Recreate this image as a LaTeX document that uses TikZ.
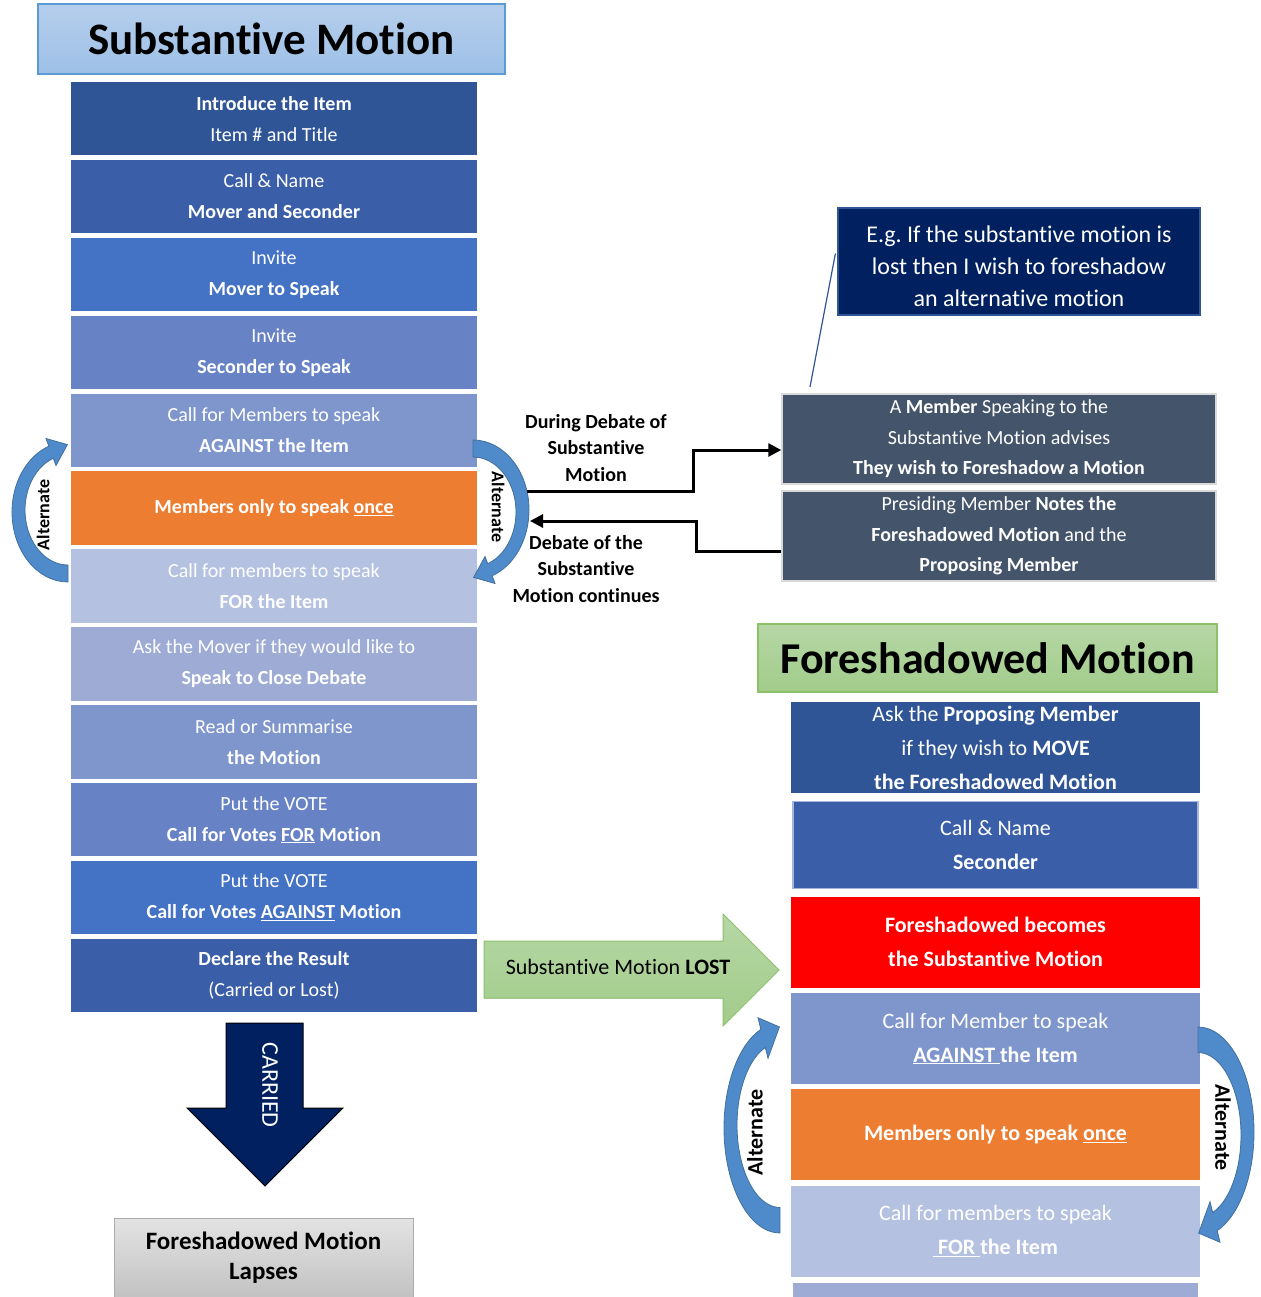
\documentclass[tikz,border=0pt]{standalone}
\usepackage{fontspec}
\setmainfont{Carlito}[Ligatures=NoCommon]
\usetikzlibrary{positioning,arrows.meta}
\frenchspacing

\definecolor{blueA}{HTML}{2F5597}
\definecolor{blueB}{HTML}{3A5FA8}
\definecolor{blueC}{HTML}{4472C4}
\definecolor{blueD}{HTML}{6783C5}
\definecolor{blueE}{HTML}{7F96CD}
\definecolor{blueF}{HTML}{B4C1E1}
\definecolor{blueG}{HTML}{9DABD5}
\definecolor{orangeA}{HTML}{ED7D31}
\definecolor{slate}{HTML}{44546A}
\definecolor{navy}{HTML}{002060}
\definecolor{arcblue}{HTML}{4F8ACB}
\definecolor{arcedge}{HTML}{41719C}
\definecolor{skyA}{HTML}{B6CEEC}
\definecolor{skyB}{HTML}{9DC0E7}
\definecolor{skyC}{HTML}{5B9BD5}
\definecolor{leafA}{HTML}{B6D7A6}
\definecolor{leafB}{HTML}{A2CC8A}
\definecolor{leafC}{HTML}{8CC168}

\begin{document}
\begin{tikzpicture}[x=1pt, y=1pt, node distance=4.1pt,
  every node/.style={align=center, text=white, inner sep=0pt},
  stepbox/.style={rectangle, minimum width=406pt, minimum height=73.4pt, font=\fontsize{20}{31}\selectfont},
  fsbox/.style={rectangle, minimum width=409pt, minimum height=91pt, font=\fontsize{22}{34}\selectfont},
  notebox/.style={rectangle, fill=slate, draw=gray!30, line width=1.5pt, minimum width=434pt, minimum height=90pt, font=\fontsize{20}{30.5}\selectfont},
  headbox/.style={rectangle, text=black, line width=1.2pt, font=\fontsize{45}{50}\selectfont\bfseries},
  sidenote/.style={text=black, font=\fontsize{20}{26.5}\selectfont\bfseries},
  flow/.style={line width=3pt, -{Triangle[length=13pt,width=13pt]}},
  alttext/.style={text=black, font=\bfseries},
  altcurve/.pic={
    \filldraw[fill=arcblue, draw=arcedge, line width=0.8pt]
      (0,-70) arc[start angle=270, end angle=110, x radius=56, y radius=70]
      -- (-22,73.5) -- (-0.6,67.4) -- (-12,46.5) -- (-14.7,53.7)
      arc[start angle=110, end angle=270, x radius=43, y radius=55] -- cycle;
    \node[alttext, #1] at (-25,-3) {Alternate};
  }]
  \useasboundingbox (0,0) rectangle (1260,-1297);

  \node[headbox, top color=skyA, bottom color=skyB, draw=skyC, minimum width=467pt, minimum height=70pt] (subtitle) at (271.5,-39) {Substantive Motion};

  \node[stepbox, fill=blueA] (intro) at (274,-118.6) {\textbf{Introduce the Item}\\Item \# and Title};
  \node[stepbox, fill=blueB, below=of intro] (callname) {Call \& Name\\\textbf{Mover and Seconder}};
  \node[stepbox, fill=blueC, below=of callname] (mover) {Invite\\\textbf{Mover to Speak}};
  \node[stepbox, fill=blueD, below=of mover] (seconder) {Invite\\\textbf{Seconder to Speak}};
  \node[stepbox, fill=blueE, below=of seconder] (against) {Call for Members to speak\\\textbf{AGAINST the Item}};
  \node[stepbox, fill=orangeA, below=of against] (once) {\textbf{Members only to speak \underline{once}}};
  \node[stepbox, fill=blueF, below=of once] (for) {Call for members to speak\\\textbf{FOR the Item}};
  \node[stepbox, fill=blueG, below=of for] (close) {Ask the Mover if they would like to\\\textbf{Speak to Close Debate}};
  \node[stepbox, fill=blueE, below=of close] (summarise) {Read or Summarise\\\textbf{the Motion}};
  \node[stepbox, fill=blueD, below=of summarise] (votefor) {Put the VOTE\\\textbf{Call for Votes \underline{FOR} Motion}};
  \node[stepbox, fill=blueC, below=of votefor] (voteagainst) {Put the VOTE\\\textbf{Call for Votes \underline{AGAINST} Motion}};
  \node[stepbox, fill=blueB, below=of voteagainst] (result) {\textbf{Declare the Result}\\(Carried or Lost)};

  \pic at (68,-512) {altcurve={rotate=90, font=\fontsize{18}{20}\selectfont\bfseries}};
  \pic[rotate=180] at (473,-510) {altcurve={rotate=-90, font=\fontsize{18}{20}\selectfont\bfseries}};

  \node[rectangle, fill=navy, draw=blueA, line width=1.2pt, minimum width=362pt, minimum height=107pt, font=\fontsize{24}{32}\selectfont] (example) at (1019,-261.5) {\rule{0pt}{26pt}E.g. If the substantive motion is\\lost then I wish to foreshadow\\an alternative motion};
  \coordinate (examplept) at (810,-387);
  \draw[blueA, line width=1.2pt] ([shift={(-2,8)}]example.west) -- (examplept);

  \node[notebox] (member) at (999,-439) {A \textbf{Member} Speaking to the\\Substantive Motion advises\\\textbf{They wish to Foreshadow a Motion}};
  \node[notebox] (presiding) at (999,-536) {Presiding Member \textbf{Notes the}\\\textbf{Foreshadowed Motion} and the\\\textbf{Proposing Member}};

  \node[sidenote] (during) at (596,-448) {During Debate of\\Substantive\\Motion};
  \node[sidenote] (continues) at (586,-569) {Debate of the\\Substantive\\Motion continues};
  \coordinate (duringstart) at (527,-491);
  \coordinate (continuesend) at (530,-521);
  \draw[flow] (duringstart) -- ++(166,0) |- ([yshift=-11pt]member.west);
  \draw[flow] ([yshift=-15pt]presiding.west) -- ++(-85,0) |- (continuesend);

  \node[headbox, top color=leafA, bottom color=leafB, draw=leafC, minimum width=459pt, minimum height=68pt, font=\fontsize{44}{50}\selectfont\bfseries] (fstitle) at (987.5,-658) {Foreshadowed Motion};

  \node[fsbox, fill=blueA] (ask) at (995.5,-747.5) {Ask the \textbf{Proposing Member}\\if they wish to \textbf{MOVE}\\\textbf{the Foreshadowed Motion}};
  \node[fsbox, fill=blueB, draw=blueE!70, line width=1.2pt, minimum width=405pt, minimum height=87pt, below=8pt of ask] (second) {Call \& Name\\\textbf{Seconder}};
  \node[fsbox, fill=red, below=7pt of second] (becomes) {\textbf{Foreshadowed becomes}\\\textbf{the Substantive Motion}};
  \node[fsbox, fill=blueE, below=5pt of becomes] (fsagainst) {Call for Member to speak\\\textbf{\underline{AGAINST\ }the Item}};
  \node[fsbox, fill=orangeA, below=5pt of fsagainst] (fsonce) {\textbf{Members only to speak \underline{once}}};
  \node[fsbox, fill=blueF, below=5pt of fsonce] (fsfor) {Call for members to speak\\\textbf{\underline{\ FOR\ }the Item}};
  \node[fsbox, fill=blueG, minimum width=405pt, below=6pt of fsfor] (fsnext) {};

  \pic[yscale=1.5] at (780,-1128) {altcurve={rotate=90, font=\fontsize{22}{24}\selectfont\bfseries}};
  \pic[rotate=180, yscale=1.5] at (1198,-1132) {altcurve={rotate=-90, font=\fontsize{22}{24}\selectfont\bfseries}};

  \filldraw[top color=leafA, bottom color=leafB, draw=leafC, line width=1pt] (484,-941) -- (723,-941) -- (723,-914) -- (779,-970) -- (723,-1026) -- (723,-998) -- (484,-998) -- cycle;
  \node[text=black, font=\fontsize{22}{26}\selectfont] (lost) at (618,-967) {Substantive Motion \textbf{LOST}};

  \filldraw[fill=navy, draw=black, line width=1pt] (226,-1023) -- (303,-1023) -- (303,-1108) -- (343,-1108) -- (265,-1186) -- (187,-1108) -- (226,-1108) -- cycle;
  \node[rotate=-90, font=\fontsize{24}{28}\selectfont] (carried) at (270,-1085) {CARRIED};

  \node[rectangle, top color=gray!22, bottom color=gray!48, draw=gray!65, line width=1pt, minimum width=299pt, minimum height=80pt, text=black, font=\fontsize{25}{30}\selectfont\bfseries] (lapses) at (263.5,-1258) {Foreshadowed Motion\\Lapses};
\end{tikzpicture}
\end{document}
